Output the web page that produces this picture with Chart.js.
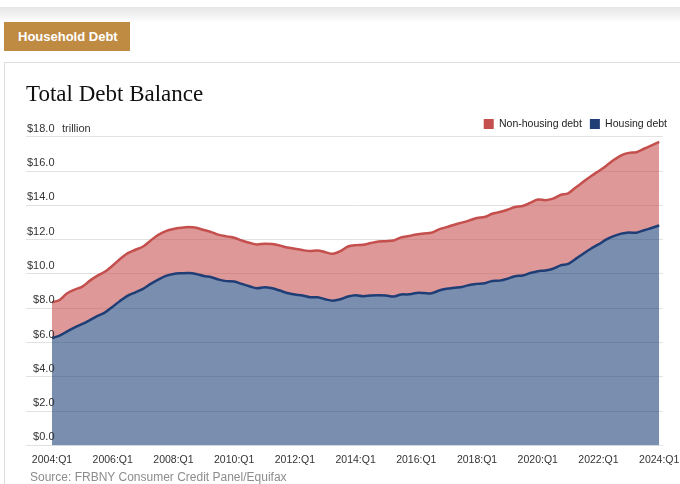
<!DOCTYPE html>
<html>
<head>
<meta charset="utf-8">
<script src="https://cdn.jsdelivr.net/npm/chart.js@4.4.1/dist/chart.umd.min.js"></script>
<style>
  html, body { margin: 0; padding: 0; background: #fff; }
  body { width: 680px; height: 484px; position: relative; overflow: hidden; font-family: "Liberation Sans", Arial, sans-serif; }
  .band { position: absolute; left: 0; top: 7px; width: 680px; height: 16px; background: linear-gradient(#e6e6e6, #fff); }
  .tag { position: absolute; left: 4px; top: 22px; width: 126px; height: 29px; box-sizing: border-box; padding-left: 14px;
         background: #bf8b43; color: #fff; font-weight: bold; font-size: 13px; line-height: 29px; }
  .card { position: absolute; left: 4px; top: 62px; width: 700px; height: 440px; border: 1px solid #dcdcdc; }
  #wrap { position: absolute; left: 5px; top: 63px; width: 675px; height: 415px; }
  .source { position: absolute; left: 30px; top: 470px; font: 12px "Liberation Sans Narrow", Arial, sans-serif; color: #8c8c8c; }
</style>
</head>
<body>
<div class="band"></div>
<div class="tag">Household Debt</div>
<div class="card"></div>
<div id="wrap"><canvas id="debtChart"></canvas></div>
<div class="source">Source: FRBNY Consumer Credit Panel/Equifax</div>

<script>
// quarters 2004:Q1 .. 2024:Q1
const quarters = [];
for (let yr = 2004; yr <= 2024; yr++) {
  for (let q = 1; q <= 4; q++) quarters.push(yr + ":Q" + q);
}
quarters.length = 81;

const xTickIndex = [0, 8, 16, 24, 32, 40, 48, 56, 64, 72, 80];
const yMin = 0, yMax = 18, yStep = 2;
const unitText = "trillion";

// $ trillion
const housing = [
  6.26, 6.40, 6.65, 6.88, 7.08, 7.31, 7.55, 7.76,
  8.09, 8.44, 8.74, 8.93, 9.13, 9.42, 9.67, 9.89,
  10.00, 10.04, 10.06, 10.00, 9.88, 9.81, 9.67, 9.58,
  9.56, 9.42, 9.28, 9.16, 9.22, 9.16, 9.03, 8.89,
  8.80, 8.74, 8.64, 8.64, 8.52, 8.44, 8.52, 8.68,
  8.76, 8.70, 8.74, 8.76, 8.74, 8.68, 8.80, 8.81,
  8.89, 8.89, 8.87, 9.03, 9.13, 9.19, 9.24, 9.36,
  9.42, 9.46, 9.59, 9.61, 9.72, 9.87, 9.91, 10.05,
  10.16, 10.20, 10.30, 10.50, 10.59, 10.88, 11.18, 11.47,
  11.72, 12.00, 12.20, 12.35, 12.42, 12.40, 12.55, 12.68,
  12.83
];
const nonHousing = [
  2.09, 2.08, 2.22, 2.21, 2.18, 2.30, 2.35, 2.38,
  2.40, 2.44, 2.47, 2.48, 2.47, 2.53, 2.61, 2.61,
  2.62, 2.65, 2.67, 2.69, 2.68, 2.63, 2.61, 2.61,
  2.55, 2.53, 2.54, 2.56, 2.54, 2.58, 2.63, 2.65,
  2.67, 2.65, 2.69, 2.73, 2.75, 2.73, 2.81, 2.92,
  2.92, 3.00, 3.06, 3.13, 3.17, 3.27, 3.33, 3.40,
  3.41, 3.47, 3.53, 3.57, 3.60, 3.68, 3.75, 3.76,
  3.84, 3.86, 3.92, 4.00, 4.02, 4.03, 4.05, 4.09,
  4.18, 4.10, 4.09, 4.10, 4.11, 4.16, 4.19, 4.23,
  4.27, 4.30, 4.44, 4.57, 4.64, 4.70, 4.75, 4.82,
  4.87
];

const toPoints = arr => arr.map((v, i) => ({ x: i, y: v }));
const tickFont = { family: "Liberation Sans", size: 11 };

// "trillion" next to the top tick label
const unitLabel = {
  id: "unitLabel",
  afterDraw(chart) {
    const ctx = chart.ctx;
    ctx.save();
    ctx.font = "11px 'Liberation Sans'";
    ctx.fillStyle = "#333";
    ctx.textBaseline = "middle";
    ctx.fillText(unitText, chart.chartArea.left + 10, chart.scales.y.getPixelForValue(yMax) - 8);
    ctx.restore();
  }
};

new Chart(document.getElementById("debtChart"), {
  type: "line",
  data: {
    datasets: [
      {
        label: "Housing debt",
        data: toPoints(housing),
        borderColor: "#1f3e76",
        backgroundColor: "rgba(33, 66, 122, 0.6)",
        fill: "origin"
      },
      {
        label: "Non-housing debt",
        data: toPoints(nonHousing),
        borderColor: "#c44f4d",
        backgroundColor: "rgba(196, 78, 76, 0.58)",
        fill: "-1"
      }
    ]
  },
  options: {
    responsive: true,
    maintainAspectRatio: false,
    animation: false,
    layout: { padding: { left: 21, right: 5, top: 0, bottom: 4 } },
    elements: {
      point: { radius: 0 },
      line: { tension: 0.3, borderWidth: 2.5 }
    },
    plugins: {
      title: {
        display: true,
        text: "Total Debt Balance",
        align: "start",
        color: "#111",
        font: { family: "Liberation Serif", size: 23, weight: "normal", lineHeight: 1 },
        padding: { top: 20.5, bottom: 4.25 }
      },
      legend: {
        position: "top",
        align: "end",
        reverse: true,
        maxHeight: 26,
        labels: {
          boxWidth: 10,
          boxHeight: 10,
          padding: 8,
          color: "#222",
          font: { family: "Liberation Sans", size: 10.5 },
          generateLabels(chart) {
            const items = Chart.defaults.plugins.legend.labels.generateLabels(chart);
            items.forEach(it => { it.fillStyle = it.strokeStyle; it.lineWidth = 0; });
            return items;
          }
        }
      },
      tooltip: { enabled: false }
    },
    scales: {
      x: {
        type: "linear",
        min: 0,
        max: 80.5,
        grid: { display: false, drawTicks: false },
        border: { display: false },
        afterBuildTicks: s => { s.ticks = xTickIndex.map(v => ({ value: v })); },
        // last label may hang past the plot; don't shrink the plot for it
        afterFit: s => { s.paddingLeft = 0; s.paddingRight = 0; },
        ticks: {
          autoSkip: false,
          maxRotation: 0,
          padding: 8,
          color: "#333",
          font: { family: "Liberation Sans", size: 10.5 },
          callback: v => quarters[v]
        }
      },
      y: {
        stacked: true,
        min: yMin,
        max: yMax,
        grid: { color: "#e2e2e2", drawTicks: true, tickLength: 26, tickColor: "#e2e2e2" },
        border: { display: false },
        afterFit: s => { s.width = 26; },
        ticks: {
          stepSize: yStep,
          mirror: true,
          padding: -25,
          labelOffset: -8,
          z: 1,
          color: "#333",
          font: tickFont,
          // two spaces = one digit width, keeps labels right-aligned
          callback: v => (v < 10 ? "  $" : "$") + v.toFixed(1)
        }
      },
      // empty spacer on the right so the plot stops short of the legend edge
      spacer: {
        type: "linear",
        position: "right",
        grid: { display: false },
        border: { display: false },
        ticks: { display: false },
        afterFit: s => { s.width = 12; }
      }
    }
  },
  plugins: [unitLabel]
});
</script>
</body>
</html>
